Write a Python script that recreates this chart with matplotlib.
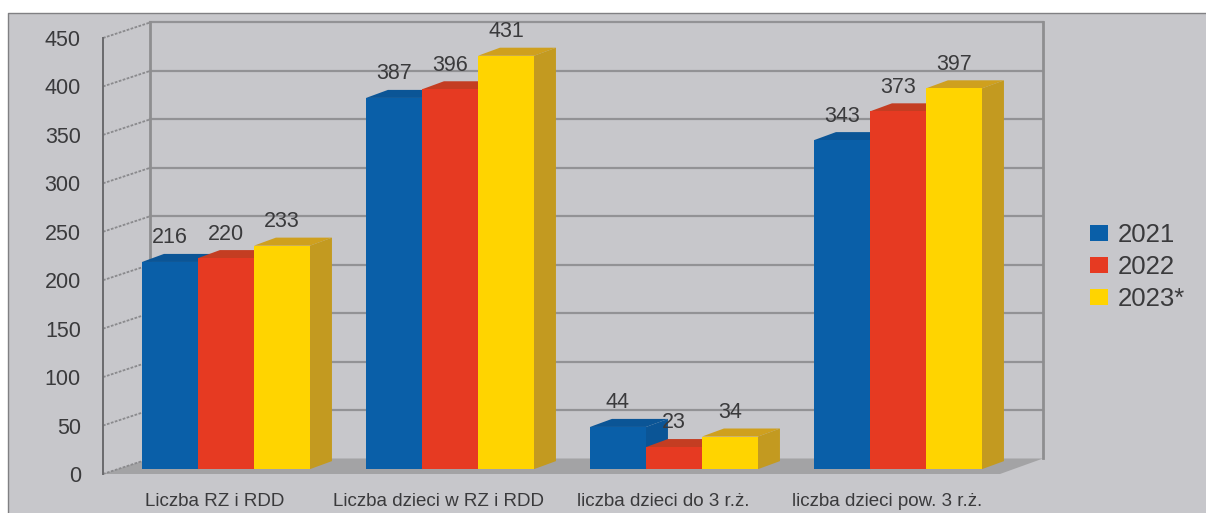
import matplotlib
matplotlib.use('Agg')
import matplotlib.pyplot as plt
import numpy as np
from matplotlib.patches import Polygon, Rectangle

categories = ['Liczba RZ i RDD', 'Liczba dzieci w RZ i RDD', 'liczba dzieci do 3 r.ż.', 'liczba dzieci pow. 3 r.ż.']
years = ['2021', '2022', '2023*']
v2021 = [216, 387, 44, 343]
v2022 = [220, 396, 23, 373]
v2023 = [233, 431, 34, 397]
yticks = [0, 50, 100, 150, 200, 250, 300, 350, 400, 450]

front = ['#0a5fa8', '#e63a22', '#ffd400']
top = ['#0b5596', '#c43d22', '#cfa01e']
side = ['#0b5596', '#b8391f', '#c39a20']

plt.rcParams['font.family'] = ['Liberation Sans', 'DejaVu Sans']
text_col = '#3a3a3c'
W, H = 1206, 513
fig = plt.figure(figsize=(W / 100, H / 100), dpi=100, facecolor='white')

# grey panel behind the chart
fig.add_artist(Rectangle((8 / W, 0), 1 - 8 / W, 1 - 13 / H, transform=fig.transFigure,
                         facecolor='#c7c7cb', edgecolor='none', zorder=-5))
fig.add_artist(plt.Line2D([8 / W, 8 / W, 1], [0, 1 - 13 / H, 1 - 13 / H], color='#808083', lw=1.0, zorder=-4))

ax = fig.add_axes([103 / W, (H - 474) / H, 897 / W, 436 / H])
ax.patch.set_alpha(0)
ax.set_xlim(-123 / 224, 774 / 224)
ax.set_ylim(0, 450)

bar_w = 0.25
base = 5
persp = 0.99  # bars stand a bit behind the front axis
dx, dy = 0.098, 8.3      # depth of the bars
wall_dx, wall_dx_r, wall_dy = 0.21, 0.192, 16  # depth of the back wall
x0, x1 = ax.get_xlim()

# floor and walls
ax.add_patch(Polygon([(x0, 0), (x0 + wall_dx, wall_dy), (x1 + wall_dx_r, wall_dy), (x1, 0)],
                     closed=True, facecolor='#a3a3a5', edgecolor='none', clip_on=False, zorder=1))
for t in yticks:
    if t > 0:
        ax.plot([x0 + wall_dx, x1 + wall_dx_r], [t + wall_dy, t + wall_dy], color='#929295', lw=1.6,
                clip_on=False, zorder=1)
    ax.plot([x0, x0 + wall_dx], [t, t + wall_dy], color='#8a8a8d', lw=1.3, ls=(0, (1.5, 0.8)),
            clip_on=False, zorder=1)
ax.plot([x0 + wall_dx] * 2, [wall_dy, 450 + wall_dy], color='#8e8e90', lw=2.0, clip_on=False, zorder=1)
ax.plot([x1 + wall_dx_r] * 2, [wall_dy, 450 + wall_dy], color='#8e8e90', lw=2.0, clip_on=False, zorder=1)

x = np.arange(len(categories))
series = [v2021, v2022, v2023]
for i, vals in enumerate(series):
    xs = x + (i - 1) * bar_w
    z = 3 + i
    ax.bar(xs, np.array(vals) * persp, bar_w, bottom=base, color=front[i], label=years[i], zorder=z + 0.5)
    for xc, v in zip(xs, vals):
        l, r = xc - bar_w / 2, xc + bar_w / 2
        t = v * persp + base
        ax.add_patch(Polygon([(l, t), (l + dx, t + dy), (r + dx, t + dy), (r, t)],
                             facecolor=top[i], edgecolor='none', zorder=z, clip_on=False))
        ax.add_patch(Polygon([(r, base), (r + dx, base + dy), (r + dx, t + dy), (r, t)],
                             facecolor=side[i], edgecolor='none', zorder=z, clip_on=False))
        ax.annotate(str(v), (xc, t + dy), xytext=(0, 4), textcoords='offset points', ha='center', va='bottom',
                    fontsize=15.5, color=text_col, zorder=10, annotation_clip=False)

for s in ['top', 'right', 'bottom']:
    ax.spines[s].set_visible(False)
ax.spines['left'].set_color('#6a6a6d')
ax.spines['left'].set_linewidth(1.4)
ax.set_yticks(yticks)
ax.tick_params(axis='y', length=0, pad=16, labelsize=15.5, labelcolor=text_col)
ax.set_xticks(x - 0.05)
ax.set_xticklabels(categories)
ax.tick_params(axis='x', length=0, pad=14, labelsize=13.5, labelcolor=text_col)

fig.legend(*ax.get_legend_handles_labels(), loc='center left', bbox_to_anchor=(1090 / W, 1 - 267 / H),
           frameon=False, fontsize=18.5, labelcolor=text_col, handlelength=0.7, handleheight=0.55,
           handletextpad=0.39, labelspacing=0.31, borderpad=0, borderaxespad=0)

fig.savefig('out.png', dpi=100)
